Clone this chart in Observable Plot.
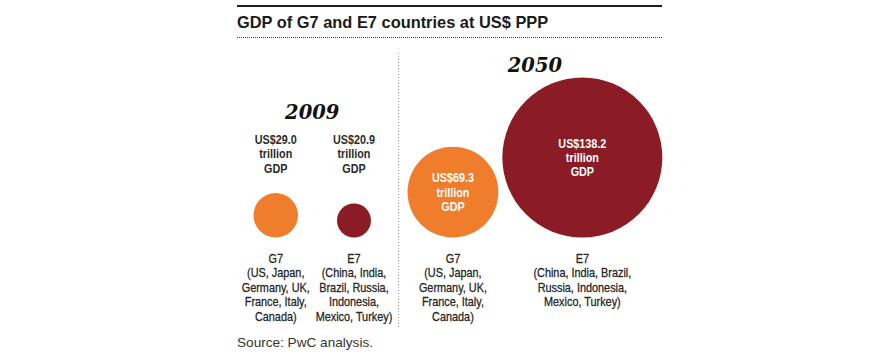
<!DOCTYPE html>
<html><head><meta charset="utf-8">
<script src="https://cdn.jsdelivr.net/npm/d3@7"></script>
<script src="https://cdn.jsdelivr.net/npm/@observablehq/plot@0.6"></script>
<style>
body{margin:0;background:#fff;font-family:"Liberation Sans",Arial,sans-serif;}
#wrap{width:890px;height:358px;position:relative;overflow:hidden;background:#fff}
#hdr{margin:5px 0 0 237px;width:425px;border-top:2px solid #231f20;border-bottom:1px dotted #444;height:30px;line-height:30px;font-weight:bold;font-size:16.4px;color:#1b1b1b;white-space:nowrap}
#chart{height:295px;margin-top:2px}
#chart svg{display:block}
#src{margin-left:237px;font-size:13.6px;color:#333;line-height:16px;white-space:nowrap}
</style></head><body>
<div id="wrap">
<div id="hdr">GDP of G7 and E7 countries at US$ PPP</div>
<div id="chart"></div>
<div id="src">Source: PwC analysis.</div>
</div>
<script>
// ---- data ----
const groups = ["G7", "E7"];
const years = ["2009", "2050"];
const gdp2009 = [29.0, 20.9];   // US$ trillion, PPP
const gdp2050 = [69.3, 138.2];  // US$ trillion, PPP
const members2009 = [
  "(US, Japan,\nGermany, UK,\nFrance, Italy,\nCanada)",
  "(China, India,\nBrazil, Russia,\nIndonesia,\nMexico, Turkey)"
];
const members2050 = [
  "(US, Japan,\nGermany, UK,\nFrance, Italy,\nCanada)",
  "(China, India, Brazil,\nRussia, Indonesia,\nMexico, Turkey)"
];
const groupColors = ["#EF7D2B", "#8B1B24"];

// ---- layout ----
const rOpts = {type: "pow", exponent: 0.82, domain: [0, 138.2], range: [0, 80]};
const rScale = Plot.scale({r: rOpts});
const baseY = 197;                 // bottom of all circles
const layout = {"2009": {left: 253, gap: 39, yearY: 78}, "2050": {left: 407, gap: 4, yearY: 31}};
const values = {"2009": gdp2009, "2050": gdp2050};
const members = {"2009": members2009, "2050": members2050};

const rows = [];
const yearRows = [];
for (const yr of years) {
  let x = layout[yr].left;
  groups.forEach((g, i) => {
    const v = values[yr][i];
    const r = rScale.apply(v);
    rows.push({group: g, year: yr, value: v, cx: x + r, cy: baseY - r,
      label: `US$${v.toFixed(1)}\ntrillion\nGDP`,
      members: g + "\n" + members[yr][i]});
    x += 2 * r + layout[yr].gap;
  });
  x -= layout[yr].gap;
  yearRows.push({year: yr, x: (layout[yr].left + x) / 2, y: layout[yr].yearY});
}

const sans = "Liberation Sans";

const chart = Plot.plot({
  width: 890,
  height: 295,
  margin: 0,
  x: {type: "identity", axis: null},
  y: {type: "identity", axis: null},
  r: rOpts,
  color: {domain: groups, range: groupColors},
  marks: [
    Plot.ruleX([398], {y1: 13, y2: 287, stroke: "#9a9a9a", strokeDasharray: "1,2", strokeWidth: 1}),
    Plot.dot(rows, {x: "cx", y: "cy", r: "value", fill: "group", stroke: null}),
    Plot.text(yearRows, {x: "x", y: "y", text: "year", lineAnchor: "bottom",
      fontFamily: "'DejaVu Serif',serif", fontStyle: "italic", fontWeight: "bold", fontSize: 19.5, fill: "#111"}),
    Plot.text(rows.filter(d => d.year === "2009"), {x: "cx", y: () => 132, text: "label", lineAnchor: "bottom",
      fontFamily: sans, fontWeight: "bold", fontSize: 13.5, lineHeight: 1.06, fill: "#2b2b2b"}),
    Plot.text(rows.filter(d => d.year === "2050"), {x: "cx", y: "cy", text: "label", lineAnchor: "middle",
      fontFamily: sans, fontWeight: "bold", fontSize: 13.5, lineHeight: 1.06, fill: "#fff"}),
    Plot.text(rows, {x: "cx", y: () => baseY + 15, text: "members", lineAnchor: "top",
      fontFamily: sans, fontSize: 13.6, lineHeight: 1.07,
      fill: "#262626", stroke: "#262626", strokeWidth: 0.3})
  ]
});
// condense the sans labels horizontally (condensed-grotesque look)
const squeeze = (sel, k) => chart.querySelectorAll(sel).forEach(t => {
  t.setAttribute("transform", (t.getAttribute("transform") || "") + ` scale(${k},1)`);
});
squeeze("g[font-size='13.5'] text", 0.8);
squeeze("g[font-size='13.6'] text", 0.8);
document.getElementById("chart").appendChild(chart);
</script>
</body></html>
